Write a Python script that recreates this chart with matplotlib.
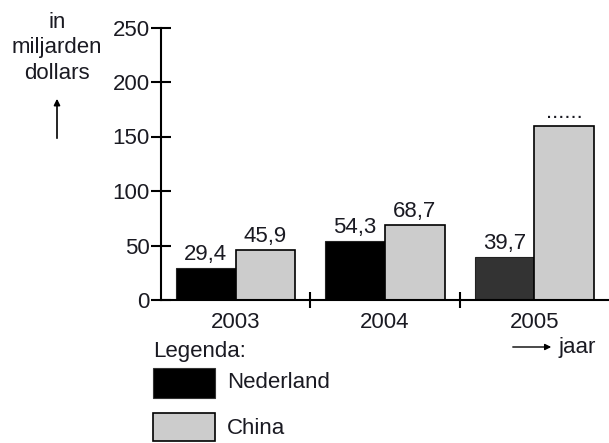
import numpy as np
import matplotlib.pyplot as plt
from matplotlib.patches import Rectangle, FancyArrowPatch

plt.rcParams['font.family'] = ['Liberation Sans', 'DejaVu Sans']
plt.rcParams['text.color'] = '#1a1a22'

years = ['2003', '2004', '2005']
nederland = [29.4, 54.3, 39.7]
china = [45.9, 68.7, 160]
nl_labels = ['29,4', '54,3', '39,7']
cn_labels = ['45,9', '68,7', '......']
nl_colors = ['#000000', '#000000', '#333333']

FS = 16

fig = plt.figure(figsize=(6.09, 4.43), dpi=100)
ax = fig.add_axes([161/609, 143/443, 448/609, 272.5/443])

x = np.arange(len(years)) + 0.5
w = 0.4
ax.bar(x - w/2, nederland, w, color=nl_colors, edgecolor='#222222', linewidth=0.8)
ax.bar(x + w/2, china, w, color='#cccccc', edgecolor='black', linewidth=1.2)

for i in range(len(years)):
    ax.annotate(nl_labels[i], (x[i] - w/2, nederland[i]), xytext=(0, 2),
                textcoords='offset points', ha='center', va='bottom', fontsize=FS)
    ax.annotate(cn_labels[i], (x[i] + w/2, china[i]), xytext=(0, 2),
                textcoords='offset points', ha='center', va='bottom', fontsize=FS)

ax.set_xlim(0, 3)
ax.set_ylim(0, 250)
ax.set_yticks([0, 50, 100, 150, 200, 250])
ax.set_xticks(x)
ax.set_xticklabels(years)
ax.set_xticks([1, 2], minor=True)
ax.tick_params(axis='y', direction='inout', length=14, width=1.5, labelsize=FS, pad=1,
               labelcolor='#1a1a22')
ax.tick_params(axis='x', which='major', length=0, labelsize=FS, pad=9, labelcolor='#1a1a22')
ax.tick_params(axis='x', which='minor', direction='inout', length=12, width=1.5)
for s in ['top', 'right']:
    ax.spines[s].set_visible(False)
ax.spines['left'].set_linewidth(1.5)
ax.spines['bottom'].set_linewidth(1.5)
ax.spines['left'].set_zorder(5)
ax.spines['bottom'].set_zorder(5)

# y label + arrow
fig.text(57/609, 1 - 48/443, 'in\nmiljarden\ndollars', ha='center', va='center',
         fontsize=FS, linespacing=1.3)
fig.patches.append(FancyArrowPatch(
    (57/609, 1 - 141/443), (57/609, 1 - 96/443), transform=fig.transFigure,
    arrowstyle='-|>', mutation_scale=9, color='black', lw=1.2))

# x label + arrow
fig.patches.append(FancyArrowPatch(
    (510/609, 1 - 347/443), (554/609, 1 - 347/443), transform=fig.transFigure,
    arrowstyle='-|>', mutation_scale=9, color='black', lw=1.0))
fig.text(558/609, 1 - 347/443, 'jaar', ha='left', va='center', fontsize=FS)

# legend
fig.text(153/609, 1 - 352/443, 'Legenda:', ha='left', va='center', fontsize=FS)
fig.patches.append(Rectangle((153/609, 1 - 398/443), 62/609, 30/443,
                             transform=fig.transFigure, facecolor='black',
                             edgecolor='#333333', lw=0.8))
fig.text(227/609, 1 - 382/443, 'Nederland', ha='left', va='center', fontsize=FS)
fig.patches.append(Rectangle((153/609, 1 - 441/443), 62/609, 28/443,
                             transform=fig.transFigure, facecolor='#cccccc',
                             edgecolor='black', lw=1.2))
fig.text(227/609, 1 - 428/443, 'China', ha='left', va='center', fontsize=FS)

fig.savefig('out.png', dpi=100)
